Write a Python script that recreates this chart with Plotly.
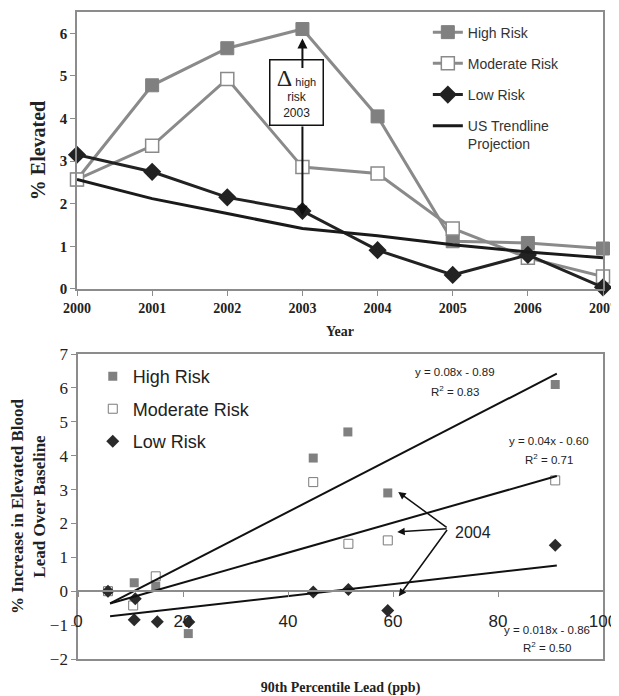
import plotly.graph_objects as go

# ---------------- data: top chart ----------------
years = [2000, 2001, 2002, 2003, 2004, 2005, 2006, 2007]
high_risk = [2.57, 4.78, 5.65, 6.10, 4.05, 1.12, 1.08, 0.95]
moderate_risk = [2.57, 3.36, 4.93, 2.86, 2.71, 1.42, 0.73, 0.29]
low_risk = [3.15, 2.75, 2.15, 1.83, 0.91, 0.33, 0.80, 0.04]
us_trend = [2.57, 2.12, 1.77, 1.42, 1.25, 1.04, 0.87, 0.73]

# ---------------- data: bottom chart ----------------
lead_high = [5.7, 10.7, 14.8, 21.0, 44.8, 51.4, 59.0, 90.9]
inc_high = [0.0, 0.25, 0.15, -1.25, 3.93, 4.70, 2.90, 6.10]
lead_mod = [5.7, 10.5, 14.8, 44.8, 51.5, 59.0, 90.9]
inc_mod = [0.0, -0.42, 0.44, 3.22, 1.40, 1.50, 3.27]
lead_low = [5.7, 10.7, 10.9, 15.1, 21.1, 44.8, 51.5, 59.0, 90.9]
inc_low = [0.0, -0.84, -0.22, -0.90, -0.91, -0.02, 0.05, -0.57, 1.36]

fit_x = [6.1, 91.2]
fit_high = [-0.36, 6.42]
fit_mod = [-0.36, 3.40]
fit_low = [-0.74, 0.76]

SERIF = "Liberation Serif, Times New Roman, serif"
SANS = "Liberation Sans, Arial, sans-serif"
GRAY = "#8a8a8a"
DARK = "#222222"
AXC = "#8c8c8c"

fig = go.Figure()

# ---- top traces ----
fig.add_trace(go.Scatter(x=years, y=high_risk, name="High Risk", mode="lines+markers",
                         line=dict(color=GRAY, width=3),
                         marker=dict(symbol="square", size=13, color="#808080", line=dict(color="#808080", width=1)),
                         cliponaxis=False, legend="legend", legendgroup="a"))
fig.add_trace(go.Scatter(x=years, y=moderate_risk, name="Moderate Risk", mode="lines+markers",
                         line=dict(color=GRAY, width=3),
                         marker=dict(symbol="square", size=13, color="white", line=dict(color=GRAY, width=1.5)),
                         cliponaxis=False, legend="legend", legendgroup="b"))
fig.add_trace(go.Scatter(x=years, y=low_risk, name="Low Risk", mode="lines+markers",
                         line=dict(color=DARK, width=3),
                         marker=dict(symbol="diamond", size=14, color=DARK),
                         cliponaxis=False, legend="legend", legendgroup="c"))
fig.add_trace(go.Scatter(x=years, y=us_trend, name="US Trendline<br>Projection", mode="lines",
                         line=dict(color="#1a1a1a", width=3),
                         cliponaxis=False, legend="legend", legendgroup="d"))

# ---- bottom traces ----
fig.add_trace(go.Scatter(x=lead_high, y=inc_high, name="High Risk", mode="markers",
                         marker=dict(symbol="square", size=9, color="#808080"),
                         xaxis="x2", yaxis="y2", legend="legend2", legendgroup="e", cliponaxis=False))
fig.add_trace(go.Scatter(x=lead_mod, y=inc_mod, name="Moderate Risk", mode="markers",
                         marker=dict(symbol="square", size=9, color="white", line=dict(color="#7a7a7a", width=1)),
                         xaxis="x2", yaxis="y2", legend="legend2", legendgroup="f", cliponaxis=False))
fig.add_trace(go.Scatter(x=lead_low, y=inc_low, name="Low Risk", mode="markers",
                         marker=dict(symbol="diamond", size=10, color="#2a2a2a"),
                         xaxis="x2", yaxis="y2", legend="legend2", legendgroup="g", cliponaxis=False))
for fy in (fit_high, fit_mod, fit_low):
    fig.add_trace(go.Scatter(x=fit_x, y=fy, mode="lines", line=dict(color="#111111", width=2),
                             xaxis="x2", yaxis="y2", showlegend=False, hoverinfo="skip"))
# empty trace to create the framing axis
fig.add_trace(go.Scatter(x=[], y=[], xaxis="x3", yaxis="y2", showlegend=False, hoverinfo="skip"))

top_dom = [0.5719, 1.0]
bot_dom = [0.0, 0.4714]
bot_range = [-2, 7]
zero_pos = bot_dom[0] + (0 - bot_range[0]) / (bot_range[1] - bot_range[0]) * (bot_dom[1] - bot_dom[0])

fig.update_layout(
    width=611, height=688,
    margin=dict(l=69, r=16, t=4, b=37, autoexpand=False),
    paper_bgcolor="white", plot_bgcolor="white",
    showlegend=True,
    xaxis=dict(domain=[0, 1], range=[2000, 2007], anchor="y", tickmode="array", tickvals=years,
               showline=True, mirror=True, linecolor=AXC, linewidth=1.5, ticks="outside", ticklen=5,
               tickcolor=AXC, showgrid=False, zeroline=False, automargin=False, ticklabeloverflow="allow",
               tickfont=dict(family=SERIF, size=14, color="#222", weight="bold"),
               title=dict(text="<b>Year</b>", font=dict(family=SERIF, size=14, color="#222"), standoff=12)),
    yaxis=dict(domain=top_dom, range=[0, 6.5], anchor="x", dtick=1, showline=True, mirror=True,
               linecolor=AXC, linewidth=1.5, ticks="outside", ticklen=5, tickcolor=AXC,
               showgrid=False, zeroline=False, automargin=False,
               tickfont=dict(family=SERIF, size=15, color="#222", weight="bold"),
               title=dict(text="<b>% Elevated</b>", font=dict(family=SERIF, size=20, color="#222"), standoff=9)),
    xaxis2=dict(domain=[0.002, 1], range=[0, 100], anchor="free", position=zero_pos, side="bottom",
                tickvals=[0, 20, 40, 60, 80, 100], showline=True, linecolor=AXC, linewidth=1.5,
                ticks="outside", ticklen=5, tickcolor=AXC, showgrid=False, zeroline=False,
                ticklabelstandoff=10, automargin=False, ticklabeloverflow="allow",
                tickfont=dict(family=SANS, size=17, color="#222")),
    xaxis3=dict(domain=[0.002, 1], range=[0, 100], anchor="y2", overlaying="x2", showline=True, mirror=True,
                linecolor=AXC, linewidth=1.5, showticklabels=False, ticks="", showgrid=False, zeroline=False,
                automargin=False,
                title=dict(text="<b>90th Percentile Lead (ppb)</b>", font=dict(family=SERIF, size=14, color="#222"),
                           standoff=26)),
    yaxis2=dict(domain=bot_dom, range=bot_range, anchor="x2", dtick=1, showline=True, mirror=True,
                linecolor=AXC, linewidth=1.5, ticks="outside", ticklen=5, tickcolor=AXC,
                showgrid=False, zeroline=False, automargin=False,
                tickfont=dict(family=SERIF, size=17, color="#222"),
                title=dict(text="<b>% Increase in Elevated Blood<br>Lead Over Baseline</b>",
                           font=dict(family=SERIF, size=17, color="#222"), standoff=10)),
    legend=dict(x=0.667, y=0.993, xanchor="left", yanchor="top", bgcolor="rgba(0,0,0,0)",
                font=dict(family=SANS, size=14, color="#333"), traceorder="grouped", tracegroupgap=10,
                valign="top"),
    legend2=dict(x=0.03, y=0.465, xanchor="left", yanchor="top", bgcolor="rgba(0,0,0,0)",
                 font=dict(family=SANS, size=18, color="#222"), traceorder="grouped", tracegroupgap=6),
)

# ---- top annotation: delta box + arrows ----
fig.add_annotation(x=2003, y=4.62, xref="x", yref="y", xshift=-6,
                   text="<span style='font-family:Liberation Serif;font-size:24px'>Δ</span>"
                        "<span style='font-size:11px'> high</span><br>risk<br>2003",
                   showarrow=False, font=dict(family=SANS, size=12, color="#222"),
                   bgcolor="white", bordercolor="#111", borderwidth=1.5, width=50, height=62,
                   align="center")
fig.add_annotation(x=2003, y=5.88, ax=2003, ay=5.15, xref="x", yref="y", axref="x", ayref="y",
                   text="", showarrow=True, arrowhead=2, arrowsize=1, arrowwidth=2, arrowcolor="#111")
fig.add_annotation(x=2003, y=1.72, ax=2003, ay=3.85, xref="x", yref="y", axref="x", ayref="y",
                   text="", showarrow=True, arrowhead=2, arrowsize=1, arrowwidth=2, arrowcolor="#111")

# ---- bottom annotations ----
eq_font = dict(family=SANS, size=11.5, color="#222")
fig.add_annotation(x=71.8, y=6.46, xref="x2", yref="y2", text="y = 0.08x - 0.89", showarrow=False, font=eq_font)
fig.add_annotation(x=71.8, y=5.92, xref="x2", yref="y2", text="R<sup>2</sup> = 0.83", showarrow=False, font=eq_font)
fig.add_annotation(x=89.7, y=4.42, xref="x2", yref="y2", text="y = 0.04x - 0.60", showarrow=False, font=eq_font)
fig.add_annotation(x=89.7, y=3.90, xref="x2", yref="y2", text="R<sup>2</sup> = 0.71", showarrow=False, font=eq_font)
fig.add_annotation(x=89.3, y=-1.13, xref="x2", yref="y2", text="y = 0.018x - 0.86", showarrow=False, font=eq_font)
fig.add_annotation(x=89.3, y=-1.66, xref="x2", yref="y2", text="R<sup>2</sup> = 0.50", showarrow=False, font=eq_font)

fig.add_annotation(x=71.5, y=1.74, xref="x2", yref="y2", text="2004", xanchor="left", showarrow=False,
                   font=dict(family=SANS, size=16, color="#222"))
for hx, hy in [(61.0, 2.93), (60.8, 1.75), (61.1, -0.15)]:
    fig.add_annotation(x=hx, y=hy, ax=70.5, ay=1.85, xref="x2", yref="y2", axref="x2", ayref="y2",
                       text="", showarrow=True, arrowhead=2, arrowsize=1, arrowwidth=1.5, arrowcolor="#111")

fig.write_html("out.html")
